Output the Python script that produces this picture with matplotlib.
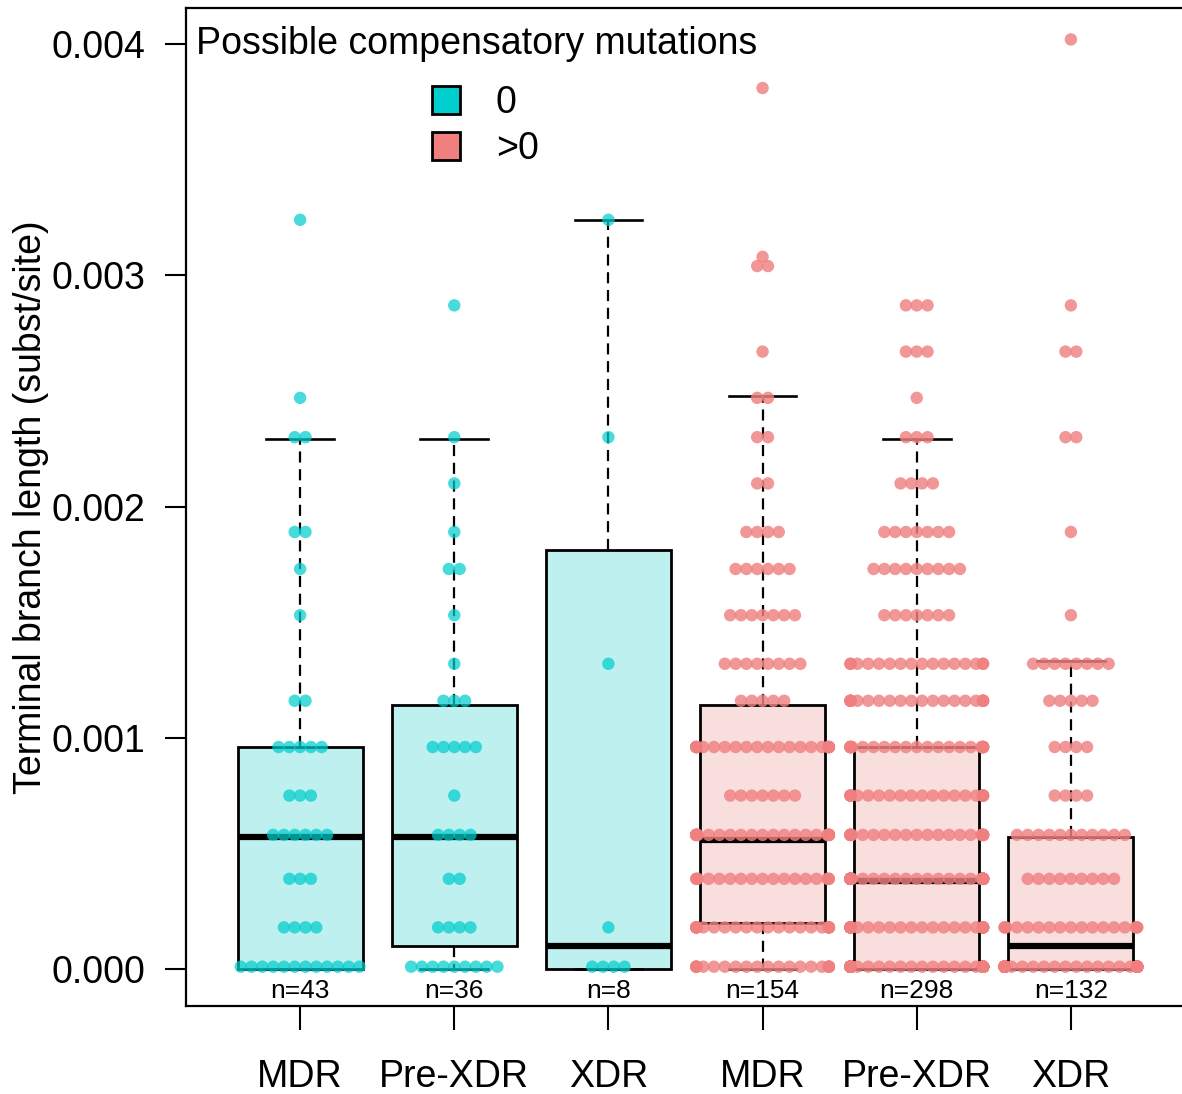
import matplotlib
matplotlib.use("Agg")
import matplotlib.pyplot as plt
import numpy as np
from matplotlib.patches import Patch

plt.rcParams["font.family"] = ["Liberation Sans", "DejaVu Sans"]

# discrete branch-length values seen in the swarm (subst/site)
levels = [0.00001, 0.00018, 0.00039, 0.00058, 0.00075, 0.00096, 0.00116,
          0.00132, 0.00153, 0.00173, 0.00189, 0.00210, 0.00230, 0.00247,
          0.00267, 0.00287, 0.00304, 0.00308, 0.00324, 0.00381, 0.00402]

# number of isolates at each level, per group
counts_mdr_0 = [12, 4, 3, 6, 3, 5, 2, 0, 1, 1, 2, 0, 2, 1, 0, 0, 0, 0, 1, 0, 0]
counts_pre_0 = [9, 4, 2, 4, 1, 5, 3, 1, 1, 2, 1, 1, 1, 0, 0, 1, 0, 0, 0, 0, 0]
counts_xdr_0 = [4, 1, 0, 0, 0, 0, 0, 1, 0, 0, 0, 0, 1, 0, 0, 0, 0, 0, 1, 0, 0]
counts_mdr_1 = [20, 22, 17, 25, 7, 22, 5, 8, 7, 6, 4, 2, 2, 2, 1, 0, 2, 1, 0, 1, 0]
counts_pre_1 = [80, 30, 45, 25, 20, 25, 20, 16, 7, 9, 7, 4, 3, 1, 3, 3, 0, 0, 0, 0, 0]
counts_xdr_1 = [66, 17, 9, 11, 4, 4, 5, 8, 1, 0, 1, 0, 2, 0, 2, 1, 0, 0, 0, 0, 1]

group_labels = ["MDR", "Pre-XDR", "XDR", "MDR", "Pre-XDR", "XDR"]
n_labels = [43, 36, 8, 154, 298, 132]
comp_class = [0, 0, 0, 1, 1, 1]

# box statistics as drawn
box_q1 = [0.0, 0.0001, 0.0, 0.0002, 0.0, 0.0]
box_med = [0.00057, 0.00057, 0.0001, 0.00056, 0.00038, 0.0001]
box_q3 = [0.00096, 0.00114, 0.00181, 0.00114, 0.00096, 0.00057]
whisk_lo = [0.0, 0.0, 0.0, 0.0, 0.0, 0.0]
whisk_hi = [0.00229, 0.00229, 0.00324, 0.00248, 0.00229, 0.00133]

legend_labels = ["0", ">0"]
point_colors = ["#00CDCD", "#F08080"]
box_fills = ["#BEF0F0", "#F9DEDE"]

all_counts = [counts_mdr_0, counts_pre_0, counts_xdr_0,
              counts_mdr_1, counts_pre_1, counts_xdr_1]

W, H = 1182, 1094
fig = plt.figure(figsize=(W / 100, H / 100), dpi=100)
ax = fig.add_axes([186 / W, 1 - 1006 / H, 1 - 186 / W, (1006 - 8) / H])

positions = np.arange(1, 7)
stats = []
for i in range(6):
    stats.append({"med": box_med[i], "q1": box_q1[i], "q3": box_q3[i],
                  "whislo": whisk_lo[i], "whishi": whisk_hi[i], "fliers": []})

bp = ax.bxp(stats, positions=positions, widths=0.81, capwidths=0.44,
            patch_artist=True, showfliers=False,
            boxprops=dict(edgecolor="black", linewidth=2.0),
            whiskerprops=dict(color="black", linewidth=1.6, linestyle=(0, (5, 3))),
            capprops=dict(color="black", linewidth=1.9),
            medianprops=dict(color="black", linewidth=4.5, solid_capstyle="butt"))
for patch, c in zip(bp["boxes"], comp_class):
    patch.set_facecolor(box_fills[c])
    patch.set_zorder(1)

# beeswarm rows, centred, with extra points piled at the edges
dx = 0.07
alphas = [0.72, 0.82]
for i, counts in enumerate(all_counts):
    xs, ys = [], []
    for lv, k in zip(levels, counts):
        if k == 0:
            continue
        off = (np.arange(k) - (k - 1) / 2) * dx
        off = np.clip(off, -0.43, 0.43)
        xs.extend(positions[i] + off)
        ys.extend([lv] * k)
    c = comp_class[i]
    ax.scatter(xs, ys, s=80, color=point_colors[c], alpha=alphas[c],
               edgecolors="none", zorder=3)

for i in range(6):
    ax.text(positions[i], -0.000095, f"n={n_labels[i]}", ha="center",
            va="center", fontsize=19)

ax.set_xlim(1 - 114 / 154, 6 + 111 / 154)
ax.set_ylim(-0.00016, 0.004156)
ax.set_yticks([0.0, 0.001, 0.002, 0.003, 0.004])
ax.set_yticklabels(["0.000", "0.001", "0.002", "0.003", "0.004"])
ax.set_xticks(positions)
ax.set_xticklabels(group_labels)
ax.tick_params(axis="y", length=15, width=1.5, labelsize=27, pad=14)
ax.tick_params(axis="x", length=17, width=1.5, labelsize=27, pad=21)
for s in ["left", "bottom", "top"]:
    ax.spines[s].set_linewidth(1.6)
ax.spines["right"].set_visible(False)

ax.set_ylabel("Terminal branch length (subst/site)", fontsize=27)
ax.yaxis.set_label_coords(-0.138, 0.5)

fig.text(196 / W, 1 - 44 / H, "Possible compensatory mutations",
         fontsize=27, ha="left", va="center")
handles = [Patch(facecolor=point_colors[0], edgecolor="black", linewidth=2),
           Patch(facecolor=point_colors[1], edgecolor="black", linewidth=2)]
fig.legend(handles, legend_labels, loc="upper left",
           bbox_to_anchor=(432 / W, 1 - 85 / H), frameon=False, fontsize=27,
           handlelength=0.75, handleheight=0.75, handletextpad=0.95,
           labelspacing=0.27, borderpad=0, borderaxespad=0)

fig.savefig("out.png", dpi=100)
